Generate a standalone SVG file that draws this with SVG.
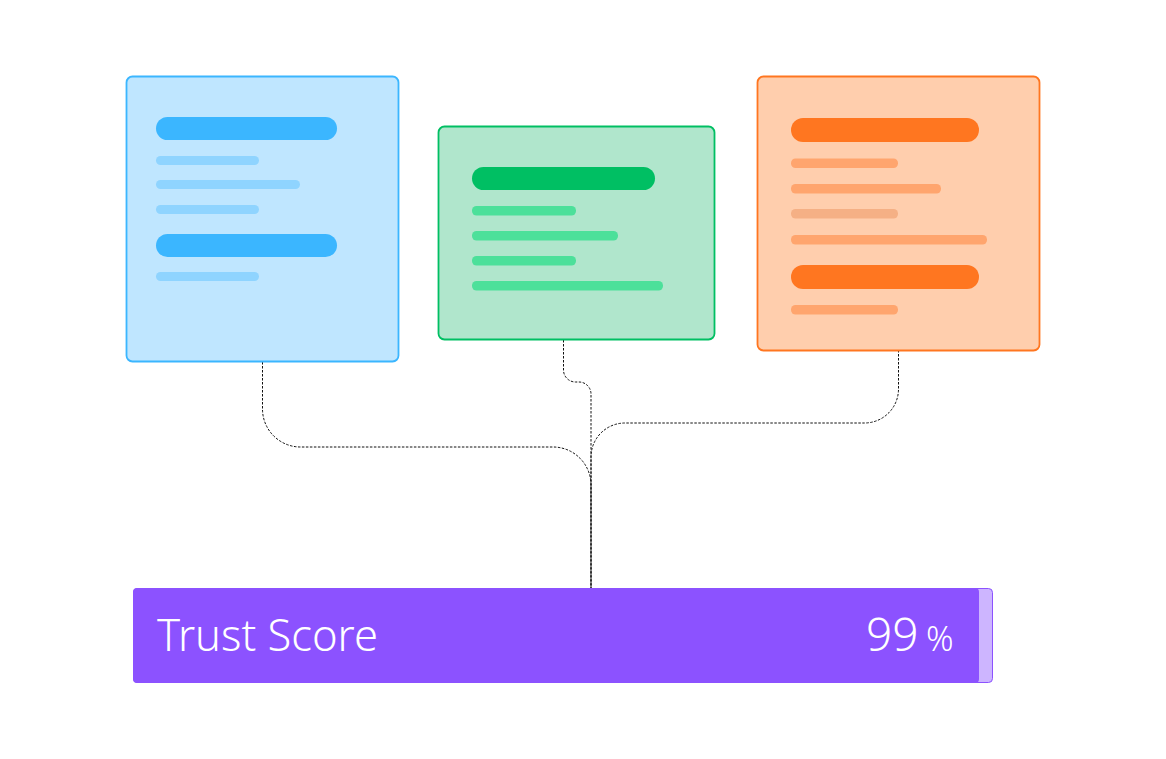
<svg xmlns="http://www.w3.org/2000/svg" width="1166" height="759" viewBox="0 0 1166 759">
<style>
.card{stroke-width:1.8}
.conn{fill:none;stroke:#111;stroke-width:1;stroke-dasharray:2.5 1.5}
.lbl{font-family:"Noto Sans","Open Sans",sans-serif;font-weight:300;fill:#fff}
</style>
<rect width="1166" height="759" fill="#fff"/>
<g id="connectors">
<path class="conn" d="M262.5,362 V409 A38,38 0 0 0 300.5,447 H553 A38,38 0 0 1 591,485 V588"/>
<path class="conn" d="M563.5,340 V370 A12,12 0 0 0 575.5,382 H579 A12,12 0 0 1 591,394 V588"/>
<path class="conn" d="M898.5,350 V389 A34,34 0 0 1 864.5,423 H625 A34,34 0 0 0 591,457 V588"/>
</g>
<g id="card-blue">
<rect class="card" x="126.5" y="76.5" width="272" height="285" rx="6" fill="#BFE6FF" stroke="#3BB6FF"/>
<rect x="156" y="117" width="181" height="23" rx="11.5" fill="#3BB6FF"/>
<rect x="156" y="156" width="103" height="9" rx="4.5" fill="#8FD4FF"/>
<rect x="156" y="180" width="144" height="9" rx="4.5" fill="#8FD4FF"/>
<rect x="156" y="205" width="103" height="9" rx="4.5" fill="#8FD4FF"/>
<rect x="156" y="234" width="181" height="23" rx="11.5" fill="#3BB6FF"/>
<rect x="156" y="272" width="103" height="9" rx="4.5" fill="#8FD4FF"/>
</g>
<g id="card-green">
<rect class="card" x="438.5" y="126.5" width="276" height="213" rx="6" fill="#B0E6CC" stroke="#00BF63"/>
<rect x="472" y="167" width="183" height="23" rx="11.5" fill="#00BF63"/>
<rect x="472" y="206" width="104" height="9.5" rx="4.5" fill="#4CE09A"/>
<rect x="472" y="231" width="146" height="9.5" rx="4.5" fill="#4CE09A"/>
<rect x="472" y="256" width="104" height="9.5" rx="4.5" fill="#4CE09A"/>
<rect x="472" y="281" width="191" height="9.5" rx="4.5" fill="#4CE09A"/>
</g>
<g id="card-orange">
<rect class="card" x="757.5" y="76.5" width="282" height="274" rx="6" fill="#FFCEAD" stroke="#FF7620"/>
<rect x="791" y="118" width="188" height="24" rx="12" fill="#FF7620"/>
<rect x="791" y="158.5" width="107" height="9.5" rx="4.5" fill="#FFA56E"/>
<rect x="791" y="184" width="150" height="9.5" rx="4.5" fill="#FFA56E"/>
<rect x="791" y="209" width="107" height="9.5" rx="4.5" fill="#F5B085"/>
<rect x="791" y="235" width="196" height="9.5" rx="4.5" fill="#FFA56E"/>
<rect x="791" y="265" width="188" height="24" rx="12" fill="#FF7620"/>
<rect x="791" y="305" width="107" height="9.5" rx="4.5" fill="#FFA56E"/>
</g>
<g id="trust-score">
<rect x="133.5" y="588.5" width="859" height="94" rx="4" fill="#CDB5FF" stroke="#8C52FF" stroke-width="1"/>
<rect x="133" y="588" width="846" height="95" rx="4" fill="#8C52FF"/>
<text class="lbl" x="157" y="651" font-size="43.5">Trust Score</text>
<text class="lbl" x="866" y="651" font-size="46">99</text>
<text class="lbl" x="926" y="651" font-size="34">%</text>
</g>
</svg>
